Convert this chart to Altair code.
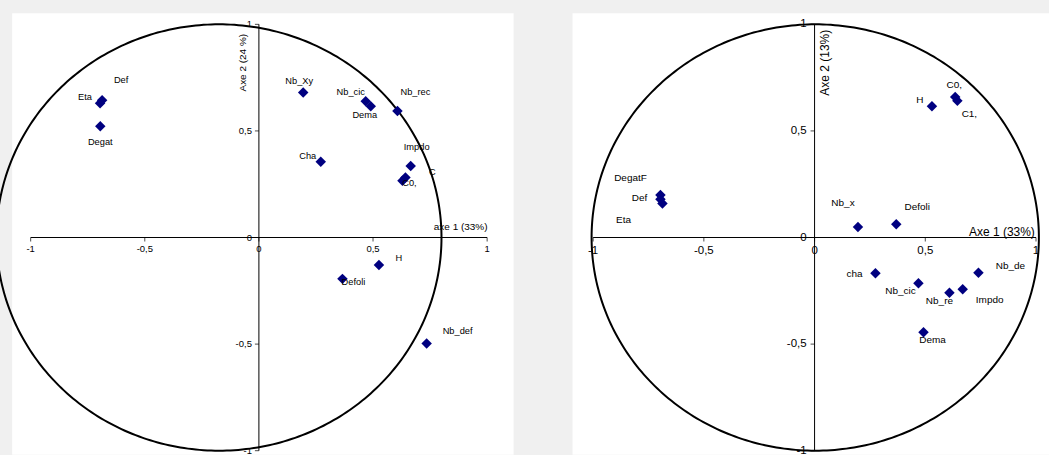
import altair as alt
import numpy as np
import pandas as pd

# Correlation circle, first analysis
left_names = ["Eta", "Def", "Degat", "Nb_Xy", "Nb_cic", "Dema", "Nb_rec", "Cha",
              "Impdo", "C", "C0,", "H", "Defoli", "Nb_def"]
left_x = [-0.696, -0.687, -0.695, 0.194, 0.468, 0.490, 0.607, 0.271,
          0.665, 0.642, 0.629, 0.526, 0.366, 0.735]
left_y = [0.630, 0.644, 0.522, 0.680, 0.639, 0.616, 0.593, 0.355,
          0.335, 0.282, 0.266, -0.129, -0.194, -0.497]

# Correlation circle, second analysis
right_names = ["C0,", "C1,", "H", "DegatF", "Def", "Eta", "Nb_x", "Defoli",
               "cha", "Nb_cic", "Nb_re", "Impdo", "Nb_de", "Dema"]
right_x = [0.635, 0.645, 0.530, -0.696, -0.696, -0.687, 0.196, 0.369,
           0.275, 0.469, 0.609, 0.669, 0.740, 0.492]
right_y = [0.659, 0.641, 0.616, 0.199, 0.179, 0.160, 0.049, 0.062,
           -0.168, -0.215, -0.259, -0.243, -0.165, -0.444]

tick_values = [-1, -0.5, 0, 0.5, 1]
tick_labels = ["-1", "-0,5", "0", "0,5", "1"]

# pixel offsets of each variable's label from its marker
left_label_offsets = {
    "Eta": (-15, -6), "Def": (19, -20), "Degat": (0, 16), "Nb_Xy": (-4, -12),
    "Nb_cic": (-15, -9), "Dema": (-6, 9), "Nb_rec": (18, -19), "Cha": (-13, -6),
    "Impdo": (6, -19), "C": (27, -5), "C0,": (7, 2), "H": (20, -7),
    "Defoli": (11, 3), "Nb_def": (31, -12),
}
right_label_offsets = {
    "C0,": (-1, -12), "C1,": (12, 13), "H": (-12, -6), "DegatF": (-30, -17),
    "Def": (-21, -1), "Eta": (-39, 17), "Nb_x": (-15, -24), "Defoli": (21, -17),
    "cha": (-21, 1), "Nb_cic": (-18, 8), "Nb_re": (-10, 8), "Impdo": (27, 11),
    "Nb_de": (32, -7), "Dema": (9, 8),
}

FONT = "Liberation Sans"
NAVY = "#000080"
INK = "#000000"


def panel(names, xs, ys, offsets, circle_cx, circle_rx, xdom, ydom, width, height,
          font_size, tick_size, x_title, x_title_pos, y_title, y_title_pos,
          ylab_dx, xlab_dy):
    sx = alt.Scale(domain=xdom, nice=False, zero=False)
    sy = alt.Scale(domain=ydom, nice=False, zero=False)
    X = lambda f: alt.X(f, type="quantitative", scale=sx, axis=None)
    Y = lambda f: alt.Y(f, type="quantitative", scale=sy, axis=None)

    pts = pd.DataFrame({"name": names, "x": xs, "y": ys})

    # unit correlation circle
    t = np.linspace(0, 2 * np.pi, 361)
    circ = pd.DataFrame({"cx": circle_cx + circle_rx * np.cos(t),
                         "cy": np.sin(t), "o": np.arange(len(t))})
    circle = alt.Chart(circ).mark_line(color="black", strokeWidth=2).encode(
        x=X("cx"), y=Y("cy"), order="o:Q")

    # axes crossing at the origin
    axes_df = pd.DataFrame({"x": [-1, 0], "x2": [1, 0], "y": [0, -1], "y2": [0, 1]})
    axes = alt.Chart(axes_df).mark_rule(color="black", strokeWidth=1).encode(
        x=X("x"), x2="x2", y=Y("y"), y2="y2")

    ticks = pd.DataFrame({"v": tick_values, "lab": tick_labels, "zero": [0] * 5})
    xticks = alt.Chart(ticks).mark_tick(orient="vertical", size=4, thickness=1,
                                        color="black", yOffset=2).encode(
        x=X("v"), y=Y("zero"))
    yticks = alt.Chart(ticks).mark_tick(orient="horizontal", size=4, thickness=1,
                                        color="black", xOffset=-2).encode(
        x=X("zero"), y=Y("v"))
    xlabels = alt.Chart(ticks).mark_text(font=FONT, fontSize=tick_size, color=INK,
                                         dy=xlab_dy, baseline="middle").encode(
        x=X("v"), y=Y("zero"), text="lab:N")
    ylabels = alt.Chart(ticks).mark_text(font=FONT, fontSize=tick_size, color=INK,
                                         dx=ylab_dx, align="right",
                                         baseline="middle").encode(
        x=X("zero"), y=Y("v"), text="lab:N")

    markers = alt.Chart(pts).mark_point(shape="diamond", filled=True, size=110,
                                        color=NAVY, opacity=1).encode(
        x=X("x"), y=Y("y"))

    label_layers = []
    for n, xv, yv in zip(names, xs, ys):
        dx, dy = offsets[n]
        label_layers.append(
            alt.Chart(pd.DataFrame({"name": [n], "x": [xv], "y": [yv]}))
            .mark_text(font=FONT, fontSize=font_size, color=INK, dx=dx, dy=dy,
                       baseline="middle")
            .encode(x=X("x"), y=Y("y"), text="name:N"))

    titles_df = pd.DataFrame({"x": [x_title_pos[0]], "y": [x_title_pos[1]],
                              "t": [x_title]})
    xt = alt.Chart(titles_df).mark_text(font=FONT, fontSize=tick_size + 0.5,
                                        color=INK, baseline="middle").encode(
        x=X("x"), y=Y("y"), text="t:N")
    yt_df = pd.DataFrame({"x": [y_title_pos[0]], "y": [y_title_pos[1]],
                          "t": [y_title]})
    yt = alt.Chart(yt_df).mark_text(font=FONT, fontSize=tick_size + 0.5,
                                    color=INK, angle=270,
                                    baseline="middle").encode(
        x=X("x"), y=Y("y"), text="t:N")

    return alt.layer(circle, axes, xticks, yticks, xlabels, ylabels, xt, yt,
                     markers, *label_layers).properties(width=width, height=height)


left = panel(left_names, left_x, left_y, left_label_offsets,
             circle_cx=-0.175, circle_rx=0.975,
             xdom=[-1.081, 1.116], ydom=[-1.019, 1.052], width=502, height=442,
             font_size=9.3, tick_size=9.5,
             x_title="axe 1 (33%)", x_title_pos=(0.884, 0.049),
             y_title="Axe 2 (24 %)", y_title_pos=(-0.07, 0.82),
             ylab_dx=-7, xlab_dy=12)

right = panel(right_names, right_x, right_y, right_label_offsets,
              circle_cx=0.003, circle_rx=1.01,
              xdom=[-1.093, 1.0587], ydom=[-1.019, 1.052], width=477, height=442,
              font_size=10, tick_size=11.5,
              x_title="Axe 1 (33%)", x_title_pos=(0.846, 0.027),
              y_title="Axe 2 (13%)", y_title_pos=(0.048, 0.82),
              ylab_dx=-8, xlab_dy=14)

# the left circle reaches past its panel's edge; the negative left padding
# keeps the panel itself 11px from the page edge
chart = alt.hconcat(left, right, spacing=59).properties(
    background="#f0f0f0",
    padding={"left": -7.8, "top": 13, "right": 0, "bottom": 0},
).configure_view(fill="white", stroke=None)

chart.save("out.html", embed_options={"renderer": "svg", "actions": False})
